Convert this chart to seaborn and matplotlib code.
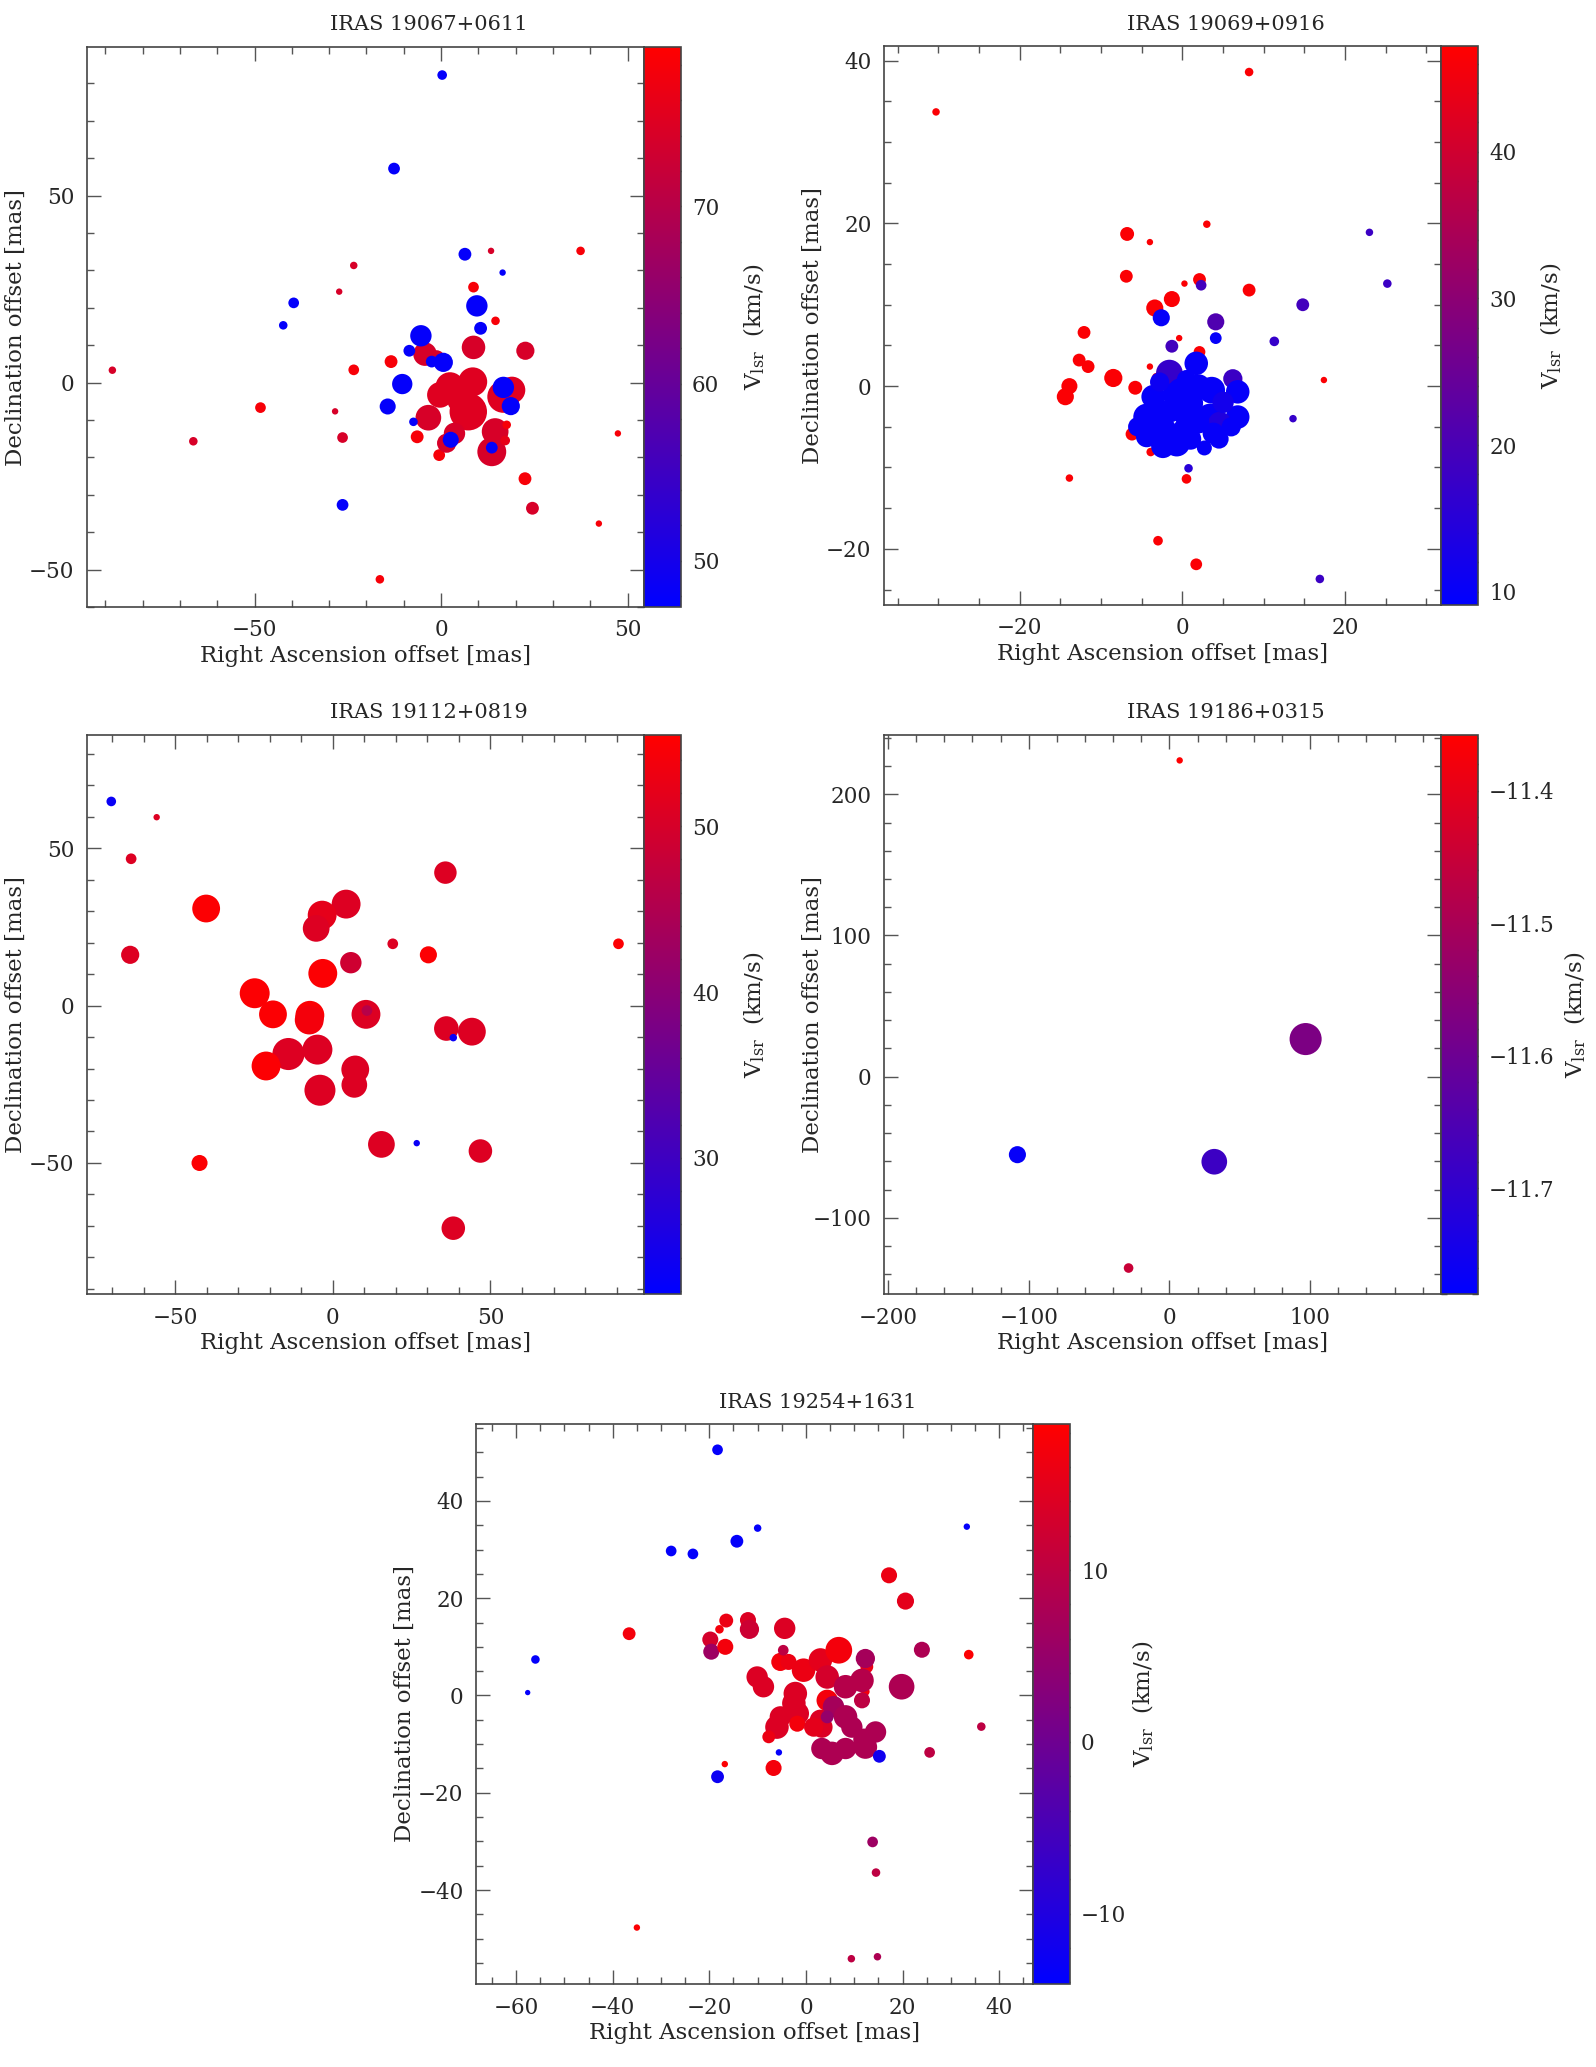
import matplotlib

matplotlib.use("Agg")
import matplotlib.pyplot as plt
import numpy as np
import pandas as pd
import seaborn as sns
from matplotlib.cm import ScalarMappable
from matplotlib.colors import LinearSegmentedColormap, Normalize
from matplotlib.ticker import MultipleLocator

# ---- IRAS 19067+0611 ----
p1_ra = [-88.1, -66.4, -48.4, -28.4, -27.3, -26.4, -23.4, -23.4, -16.4, -13.4, -6.4, -0.5,
         -4.3, -1.2, -3.4, 8.7, 8.7, 13.4, 14.6, 22.6, 37.4, 2.4, -0.3, 8.5, 7.3, 5.5, 16.7,
         19.0, 3.6, 1.5, 14.5, 13.6, 17.6, 17.2, 22.5, 24.5, 42.3, 47.4,
         0.3, -12.6, 6.4, 16.5, -39.5, -42.3, 9.6, 10.6, -5.4, -8.5, -2.5, 0.6, -10.4, -14.3,
         -7.4, 16.7, 18.7, 2.6, 13.6, -26.4]
p1_dec = [3.3, -15.7, -6.7, -7.7, 24.3, -14.7, 31.3, 3.4, -52.6, 5.6, -14.5, -19.4,
          7.6, 6.5, -9.4, 25.5, 9.4, 35.2, 16.5, 8.5, 35.2, -1.1, -3.3, 0.2, -7.8, -4.5, -3.8,
          -2.0, -13.6, -16.2, -13.1, -18.5, -11.3, -15.5, -25.7, -33.6, -37.7, -13.6,
          82.2, 57.2, 34.3, 29.4, 21.3, 15.3, 20.5, 14.5, 12.5, 8.5, 5.6, 5.4, -0.4, -6.4,
          -10.5, -1.3, -6.3, -15.3, -17.4, -32.7]
p1_vlsr = [74, 74, 78, 74, 74, 74, 74, 78, 78, 78, 78, 78,
           74, 74, 74, 78, 74, 74, 78, 74, 78, 75, 75, 75, 75, 75, 75,
           75, 74, 74, 74, 74, 78, 76, 78, 74, 78, 78,
           48, 48, 48, 48, 48, 48, 48, 48, 48, 48, 48, 48, 48, 48,
           48, 48, 48, 48, 48, 48]
p1_flux = [7, 8, 10, 6, 6, 10, 7, 10, 8, 12, 12, 11,
           22, 15, 24, 10, 22, 6, 8, 17, 8, 27, 24, 27, 35, 27, 30,
           25, 20, 18, 25, 27, 8, 9, 12, 12, 6, 6,
           9, 11, 12, 6, 10, 8, 20, 12, 20, 11, 11, 18, 19, 15,
           8, 20, 17, 15, 11, 11]

# ---- IRAS 19069+0916 ----
p2_ra = [-30.3, 8.2, 3.0, -6.8, -4.0, -6.9, 0.25, 2.1, 8.2, -1.3, -3.4, -12.1, -0.4, 2.1,
         -12.7, -11.6, -4.0, -3.2, -8.5, -13.9, -14.4, -5.8, 17.4, -6.2, -3.9, -13.9, 0.5,
         -3.0, 1.7,
         23.0, 25.2, 2.3, 14.8, 4.1, 11.3, -1.3, 13.6, 0.75, 16.9,
         -2.6, 4.1, -1.6, 6.2, -0.3, 1.7, 3.6, 6.8, 6.8, -4.4, -3.6, -2.4, -2.4, 0.5, 0.5,
         3.4, 4.6, 2.7, -0.7, -4.4, -4.8, 3.8, 0.9,
         -1.0, 2.0, 5.0, -3.0, 1.0, -1.5, 4.5, 6.0, -5.5, 2.0, -2.8, 0.5]
p2_dec = [33.7, 38.6, 19.9, 18.7, 17.7, 13.5, 12.6, 13.1, 11.8, 10.7, 9.6, 6.6, 5.9, 4.2,
          3.2, 2.4, 2.4, 1.1, 1.0, 0.0, -1.3, -0.2, 0.75, -5.9, -8.1, -11.3, -11.4,
          -19.0, -21.9,
          18.9, 12.6, 12.4, 10.0, 7.9, 5.5, 4.9, -4.0, -10.1, -23.7,
          8.4, 5.9, 1.6, 0.9, -0.5, 2.8, -0.5, -0.7, -3.8, -3.8, -1.3, -5.4, -7.4, -5.4, -3.3,
          -3.8, -4.6, -7.6, -7.0, -6.2, -4.6, -5.8, -2.1,
          -1.0, 0.0, -2.0, -3.0, -6.5, -3.0, -6.5, -5.0, -5.0, -4.5, 0.5, 0.8]
p2_vlsr = [46.5] * 29 + [18, 18, 19, 19, 21, 17, 19, 17, 15, 18] + \
          [10, 10, 17, 18, 10, 10, 10, 10, 10, 10, 10, 10, 10, 10, 10,
           10, 14, 10, 10, 10, 10, 10, 10,
           10, 10, 12, 10, 10, 10, 10, 10, 10, 10, 11, 10]
p2_flux = [7, 8, 7, 13, 6, 12, 6, 12, 12, 15, 16, 12, 6, 11,
           12, 12, 6, 8, 17, 15, 16, 13, 6, 12, 8, 7, 9,
           9, 11,
           7, 8, 10, 12, 16, 9, 12, 7, 8, 8,
           16, 11, 25, 18, 22, 22, 25, 22, 22, 25, 22, 25, 22, 25, 25,
           25, 22, 14, 25, 20, 20, 20, 25,
           22, 22, 20, 22, 20, 22, 18, 18, 18, 20, 18, 18]

# ---- IRAS 19112+0819 ----
p3_ra = [-55.9, -64.0, -64.3, -40.2, 35.7, 4.2, -3.4, -5.3, 19.0, 30.3, 90.6, 5.7, -3.2,
         -24.8, -19.0, -7.3, -7.5, 10.5, 10.8, 36.0, 44.1, -4.9, -14.1, -21.2, 7.1, 6.8,
         -4.1, 15.4, 46.8, -42.3, 38.2,
         -70.3, 38.2, 26.6]
p3_dec = [59.8, 46.6, 16.1, 30.8, 42.2, 32.2, 28.7, 24.5, 19.6, 16.1, 19.6, 13.6, 10.2,
          3.9, -2.8, -3.1, -4.6, -2.8, -1.6, -7.3, -8.3, -14.0, -15.4, -19.2, -20.3, -25.2,
          -26.9, -44.1, -46.2, -50.0, -70.7,
          64.8, -10.2, -43.7]
p3_vlsr = [51, 51, 51, 55, 51, 51, 52, 51, 51, 55, 55, 49, 55,
           55, 55, 55, 54, 51, 46, 51, 51, 51, 51, 55, 51, 51,
           51, 51, 51, 55, 51,
           23, 23, 23]
p3_flux = [6, 10, 17, 26, 21, 27, 27, 25, 10, 16, 10, 20, 27,
           28, 26, 27, 27, 27, 10, 23, 26, 28, 30, 27, 26, 24,
           29, 25, 22, 15, 22,
           9, 7, 6]

# ---- IRAS 19186+0315 ----
p4_ra = [7.3, 96.8, -108.0, 31.9, -29.0]
p4_dec = [224.0, 26.6, -55.3, -60.3, -135.6]
p4_vlsr = [-11.36, -11.575, -11.77, -11.68, -11.45]
p4_flux = [6, 30, 16, 24, 9]

# ---- IRAS 19254+1631 ----
p5_ra = [-36.6, 17.2, 20.6, 24.0, 33.7, 19.8, 36.3, 25.6, -16.8, -6.7, 13.8, 14.5, -35.0,
         9.4, 14.8,
         -17.9, -16.5, -19.8, -19.6, -16.7, -12.0, -11.7, -4.4, -5.3, -3.6, -4.7, -10.1,
         -8.8, -0.5, 3.0, 6.8, 4.4, -2.2, -2.5, -1.8, -5.3, -6.0, -7.7, 3.0, 3.3, 4.4,
         -1.8, 1.6, 12.6, 12.3, 12.3, 11.6, 8.2, 11.6, 5.7, 4.4, 8.2, 9.5, 14.4, 12.0,
         3.3, 5.4, 8.2, 12.3,
         -18.3, -10.0, -14.3, -27.9, -23.4, 33.3, -56.0, -57.6, 15.2, -5.6, -18.3]
p5_dec = [12.7, 24.7, 19.4, 9.4, 8.4, 1.8, -6.4, -11.7, -14.1, -14.9, -30.1, -36.4, -47.7,
          -54.1, -53.7,
          13.6, 15.4, 11.5, 9.0, 10.0, 15.5, 13.6, 13.8, 6.9, 6.9, 9.3, 3.8,
          1.8, 5.2, 7.3, 9.3, 3.8, 0.4, -1.6, -3.7, -4.4, -6.5, -8.5, -5.1, -6.5, -1.0,
          -5.8, -6.5, 5.9, 0.8, 7.6, 3.1, 1.8, -1.0, -2.3, -4.4, -4.4, -6.5, -7.5, -9.0,
          -10.9, -11.9, -10.9, -10.6,
          50.5, 34.4, 31.7, 29.7, 29.1, 34.7, 7.4, 0.6, -12.5, -11.7, -16.7]
p5_vlsr = [17, 16, 15, 8, 18, 8, 10, 10, 18, 17, 6, 10, 18,
           10, 8,
           17, 16, 13, 6, 17, 14, 12, 14, 17, 16, 10, 14,
           14, 16, 15, 17, 13, 14, 14, 14, 14, 14, 16, 14, 14, 17,
           17, 15, 16, 17, 7, 9, 9, 10, 7, 5, 8, 8, 8, 8,
           8, 8, 8, 8,
           -13.5, -13.5, -13.5, -13.5, -13.5, -13.5, -13.5, -13.5, -12, -13.5, -12.5]
p5_flux = [12, 15, 16, 15, 9, 24, 8, 10, 6, 15, 10, 8, 6,
           7, 7,
           8, 13, 15, 15, 15, 15, 18, 20, 17, 15, 10, 20,
           20, 22, 22, 25, 22, 22, 22, 22, 20, 22, 12, 20, 20, 20,
           15, 18, 12, 8, 18, 22, 22, 15, 20, 12, 22, 20, 20, 20,
           20, 22, 20, 22,
           10, 7, 12, 10, 10, 6, 8, 5, 12, 6, 12]

FIG_W, FIG_H = 1596, 2067
CMAP = LinearSegmentedColormap.from_list("blue_red", ["#0000ff", "#ff0000"])
PT_PER_PX = 0.77

sns.set_style("ticks")
plt.rcParams["font.family"] = ["DejaVu Serif"]
plt.rcParams["mathtext.fontset"] = "dejavuserif"


def panel(fig, title, box, ra, dec, vlsr, flux, xlim, ylim, vlim,
          xstep, ystep, cticks, cminor, label_x=2.65):
    # box = (left, top, width, height) in pixels
    left, top, w, h = box
    rect = [left / FIG_W, 1 - (top + h) / FIG_H, w / FIG_W, h / FIG_H]
    ax = fig.add_axes(rect)
    cax = fig.add_axes([(left + w) / FIG_W, rect[1], 37 / FIG_W, rect[3]])

    d = pd.DataFrame({"ra": ra, "dec": dec, "v": vlsr})
    sizes = (np.asarray(flux, dtype=float) * PT_PER_PX) ** 2
    sns.scatterplot(data=d, x="ra", y="dec", hue="v", palette=CMAP, hue_norm=vlim,
                    s=sizes, linewidth=0, legend=False, ax=ax)
    ax.set_xlim(*xlim)
    ax.set_ylim(*ylim)
    ax.xaxis.set_major_locator(MultipleLocator(xstep[0]))
    ax.xaxis.set_minor_locator(MultipleLocator(xstep[1]))
    ax.yaxis.set_major_locator(MultipleLocator(ystep[0]))
    ax.yaxis.set_minor_locator(MultipleLocator(ystep[1]))
    ax.tick_params(which="both", direction="in", top=True, right=True,
                   color="#555555", labelsize=15.5, pad=9)
    ax.tick_params(which="major", length=10, width=1)
    ax.tick_params(which="minor", length=5, width=1)
    for s in ax.spines.values():
        s.set_color("#444444")
        s.set_linewidth(1.2)
    ax.set_xlabel("Right Ascension offset [mas]", fontsize=16.5)
    ax.set_ylabel("Declination offset [mas]", fontsize=16.5)
    ax.xaxis.set_label_coords(0.5, -0.068)
    ax.yaxis.set_label_coords(-0.108, 0.5)

    cb = fig.colorbar(ScalarMappable(norm=Normalize(*vlim), cmap=CMAP), cax=cax)
    cb.set_ticks(cticks)
    cax.yaxis.set_minor_locator(MultipleLocator(cminor))
    cax.tick_params(which="both", direction="in", left=True, right=True,
                    color="#333333", labelsize=15.5, pad=8)
    cax.tick_params(which="major", length=8, width=1)
    cax.tick_params(which="minor", length=4, width=1)
    cb.outline.set_edgecolor("#444444")
    cb.outline.set_linewidth(1.2)
    cb.set_label("V$_{\\rm lsr}$  (km/s)", fontsize=16.5)
    cax.yaxis.set_label_coords(label_x, 0.5)

    fig.text((left + 342) / FIG_W, 1 - (top - 22) / FIG_H, title,
             ha="center", va="center", fontsize=15)


fig = plt.figure(figsize=(FIG_W / 100, FIG_H / 100), dpi=100)

panel(fig, "IRAS 19067+0611", (87, 47, 557, 560), p1_ra, p1_dec, p1_vlsr, p1_flux,
      (-94.9, 54.4), (-60.0, 89.7), (47.4, 79.0), (50, 10), (50, 10), [50, 60, 70], 2)
panel(fig, "IRAS 19069+0916", (884, 46, 557, 559), p2_ra, p2_dec, p2_vlsr, p2_flux,
      (-36.7, 31.8), (-26.9, 41.8), (9.1, 47.2), (20, 5), (20, 5), [10, 20, 30, 40], 2)
panel(fig, "IRAS 19112+0819", (87, 735, 557, 559), p3_ra, p3_dec, p3_vlsr, p3_flux,
      (-78.0, 98.7), (-91.6, 85.9), (21.8, 55.5), (50, 10), (50, 10), [30, 40, 50], 2)
panel(fig, "IRAS 19186+0315", (884, 735, 557, 559), p4_ra, p4_dec, p4_vlsr, p4_flux,
      (-202.8, 193.0), (-154.0, 242.0), (-11.78, -11.358), (100, 20), (100, 20),
      [-11.7, -11.6, -11.5, -11.4], 0.02, label_x=3.3)
panel(fig, "IRAS 19254+1631", (476, 1424, 557, 560), p5_ra, p5_dec, p5_vlsr, p5_flux,
      (-68.3, 47.0), (-59.3, 55.8), (-14.1, 18.5), (20, 5), (20, 5), [-10, 0, 10], 2)

fig.savefig("out.png", dpi=100)
